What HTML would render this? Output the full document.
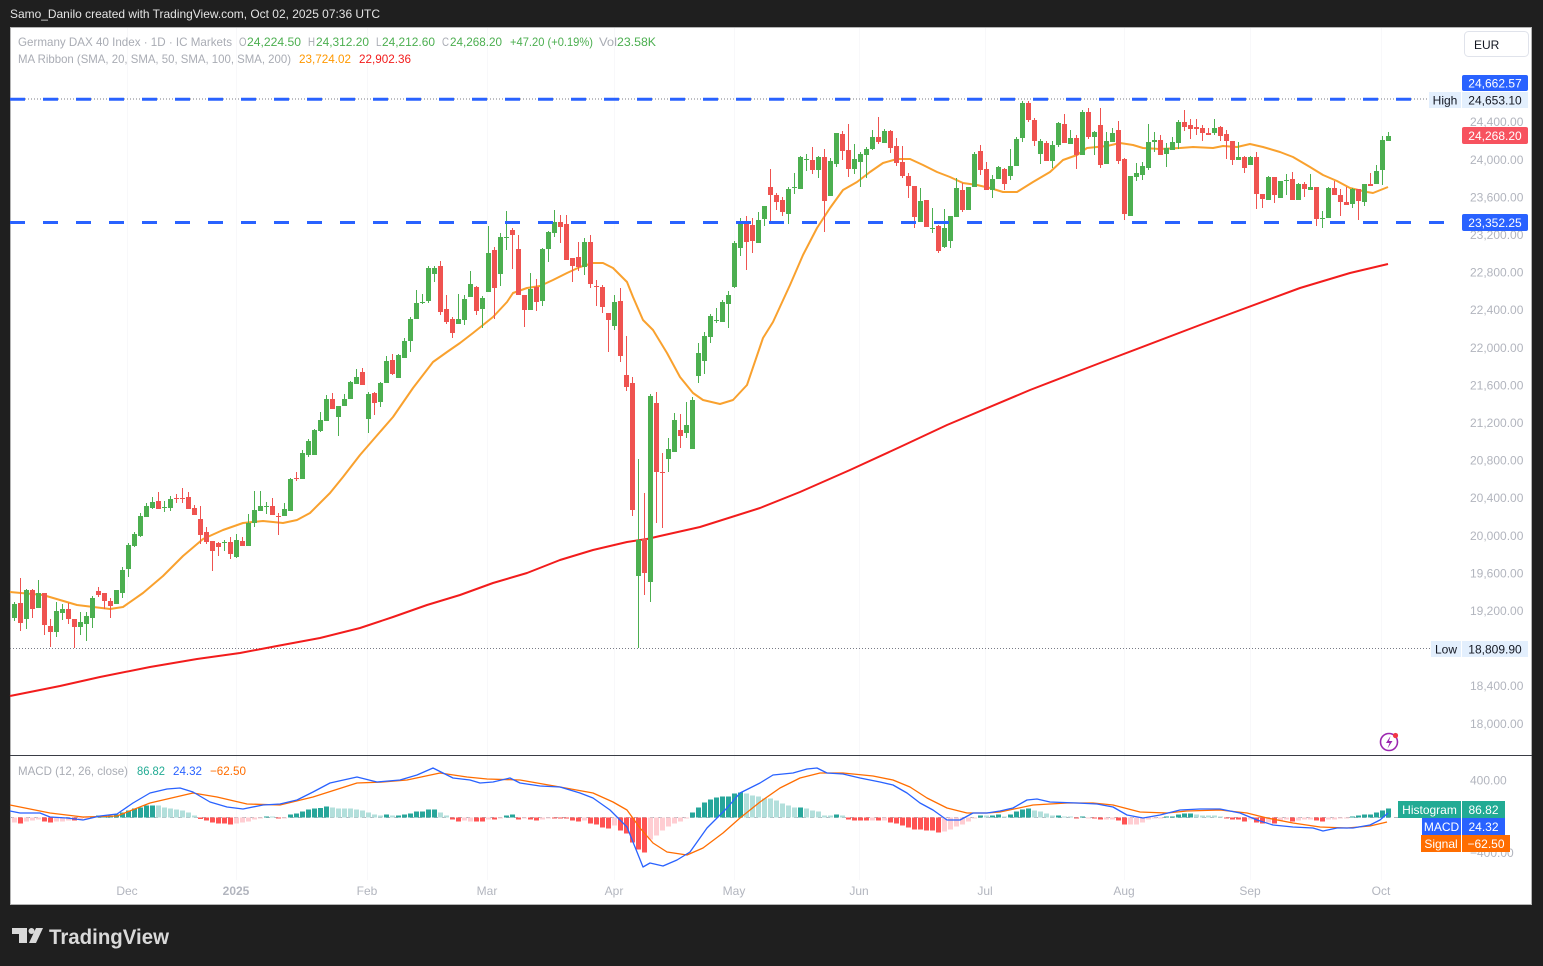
<!DOCTYPE html>
<html><head><meta charset="utf-8">
<style>
html,body{margin:0;padding:0;background:#1f1f1f;width:1543px;height:966px;overflow:hidden}
svg{display:block}
text{font-family:"Liberation Sans",Arial,sans-serif}
</style></head><body>
<svg id="s" width="1543" height="966" viewBox="0 0 1543 966" xmlns="http://www.w3.org/2000/svg">
<rect x="0" y="0" width="1543" height="966" fill="#1f1f1f"/>
<text x="10" y="18" fill="#e4e4e4" font-size="12" textLength="370" lengthAdjust="spacingAndGlyphs">Samo_Danilo created with TradingView.com, Oct 02, 2025 07:36 UTC</text>
<rect x="10.5" y="27.5" width="1521" height="877" fill="#ffffff" stroke="#b4b4b4" stroke-width="1"/>

<!-- faint grid -->
<g stroke="#f8f8fa" stroke-width="1">
<line x1="127.5" y1="28" x2="127.5" y2="880"/><line x1="236.5" y1="28" x2="236.5" y2="880"/><line x1="367.5" y1="28" x2="367.5" y2="880"/><line x1="487.5" y1="28" x2="487.5" y2="880"/><line x1="614.5" y1="28" x2="614.5" y2="880"/><line x1="734.5" y1="28" x2="734.5" y2="880"/><line x1="859.5" y1="28" x2="859.5" y2="880"/><line x1="985.5" y1="28" x2="985.5" y2="880"/><line x1="1124.5" y1="28" x2="1124.5" y2="880"/><line x1="1250.5" y1="28" x2="1250.5" y2="880"/><line x1="1381.5" y1="28" x2="1381.5" y2="880"/>
</g>

<!-- legend -->
<g font-size="12">
<text x="18" y="46" fill="#a9acb4" textLength="214" lengthAdjust="spacingAndGlyphs">Germany DAX 40 Index · 1D · IC Markets</text>
<text x="239" y="46" fill="#a9acb4" textLength="7.5" lengthAdjust="spacingAndGlyphs">O</text><text x="247" y="46" fill="#4caf50" textLength="54" lengthAdjust="spacingAndGlyphs">24,224.50</text>
<text x="308" y="46" fill="#a9acb4" textLength="7" lengthAdjust="spacingAndGlyphs">H</text><text x="316" y="46" fill="#4caf50" textLength="53" lengthAdjust="spacingAndGlyphs">24,312.20</text>
<text x="376" y="46" fill="#a9acb4" textLength="5.5" lengthAdjust="spacingAndGlyphs">L</text><text x="382" y="46" fill="#4caf50" textLength="53" lengthAdjust="spacingAndGlyphs">24,212.60</text>
<text x="442" y="46" fill="#a9acb4" textLength="7" lengthAdjust="spacingAndGlyphs">C</text><text x="450" y="46" fill="#4caf50" textLength="52" lengthAdjust="spacingAndGlyphs">24,268.20</text>
<text x="510" y="46" fill="#4caf50" textLength="83" lengthAdjust="spacingAndGlyphs">+47.20 (+0.19%)</text>
<text x="599" y="46" fill="#a9acb4" textLength="18" lengthAdjust="spacingAndGlyphs">Vol</text><text x="617" y="46" fill="#4caf50" textLength="39" lengthAdjust="spacingAndGlyphs">23.58K</text>
<text x="18" y="63" fill="#a9acb4" textLength="273" lengthAdjust="spacingAndGlyphs">MA Ribbon (SMA, 20, SMA, 50, SMA, 100, SMA, 200)</text>
<text x="299" y="63" fill="#ff9800" textLength="52" lengthAdjust="spacingAndGlyphs">23,724.02</text>
<text x="359" y="63" fill="#f21c1c" textLength="52" lengthAdjust="spacingAndGlyphs">22,902.36</text>
</g>

<!-- EUR button -->
<rect x="1464.5" y="31.5" width="64" height="25" rx="4" fill="#ffffff" stroke="#e0e3eb"/>
<text x="1474" y="49" font-size="12" fill="#131722">EUR</text>

<!-- dotted high/low -->
<line x1="10" y1="99" x2="1429" y2="99" stroke="#787b86" stroke-width="1" stroke-dasharray="1 2"/>
<line x1="10" y1="648.5" x2="1431" y2="648.5" stroke="#787b86" stroke-width="1" stroke-dasharray="1 2"/>

<!-- MA200 -->
<polyline fill="none" stroke="#f21c1c" stroke-width="2" stroke-linejoin="round" points="10,696 60,686 100,677 150,667 197,659 240,653 277,646 320,638 360,628 393,617 427,605 460,595 493,583 527,573 560,560 593,550 627,542 647,539 660,536 700,527 760,508 800,492 850,470 900,447 947,425 1030,390 1100,363 1200,325 1300,288 1350,273 1388,264"/>
<!-- MA20 -->
<polyline fill="none" stroke="#f9a12e" stroke-width="2" stroke-linejoin="round" points="10,592 43,595 77,605 110,609 123,607 143,593 163,576 183,556 203,539 223,530 243,523 263,521 283,523 297,520 310,513 330,493 343,477 360,455 373,440 393,417 413,388 433,362 447,352 460,343 473,333 493,317 507,302 513,293 527,288 540,286 553,280 567,273 580,267 593,263 603,263 613,268 627,282 633,297 643,320 653,330 667,353 680,377 693,393 703,400 720,404 733,400 747,385 763,338 773,322 790,285 803,255 817,228 830,208 843,190 857,182 870,172 883,163 897,159 910,159 923,165 937,172 950,177 963,183 977,185 990,188 1003,192 1017,192 1033,182 1050,172 1063,160 1077,155 1087,148 1107,146 1120,143 1133,145 1143,148 1160,149 1180,148 1193,147 1213,148 1223,146 1237,147 1250,144 1263,147 1280,152 1293,157 1310,167 1323,175 1337,181 1350,188 1367,192 1373,193 1388,187"/>

<g id="cd" shape-rendering="crispEdges"></g>

<!-- blue dashed lines -->
<line x1="10" y1="99.2" x2="1460" y2="99.2" stroke="#2962ff" stroke-width="3" stroke-dasharray="15 18"/>
<line x1="10" y1="222.5" x2="1460" y2="222.5" stroke="#2962ff" stroke-width="3" stroke-dasharray="15 18"/>

<!-- price axis labels -->
<g font-size="12" fill="#b2b5be">
<text x="1470" y="126">24,400.00</text>
<text x="1470" y="164">24,000.00</text>
<text x="1470" y="201.5">23,600.00</text>
<text x="1470" y="239">23,200.00</text>
<text x="1470" y="276.5">22,800.00</text>
<text x="1470" y="314">22,400.00</text>
<text x="1470" y="352">22,000.00</text>
<text x="1470" y="389.5">21,600.00</text>
<text x="1470" y="427">21,200.00</text>
<text x="1470" y="464.5">20,800.00</text>
<text x="1470" y="502">20,400.00</text>
<text x="1470" y="540">20,000.00</text>
<text x="1470" y="577.5">19,600.00</text>
<text x="1470" y="615">19,200.00</text>
<text x="1470" y="690">18,400.00</text>
<text x="1470" y="728">18,000.00</text>
<text x="1470" y="784.5">400.00</text>
<text x="1470" y="857">−400.00</text>
</g>

<!-- price boxes -->
<g font-size="12" text-anchor="middle">
<rect x="1462" y="75" width="66" height="16" rx="2" fill="#2962ff"/>
<text x="1495" y="87.5" fill="#ffffff">24,662.57</text>
<rect x="1429" y="92" width="32" height="16" fill="#e3effd"/>
<text x="1445" y="104.5" fill="#131722">High</text>
<rect x="1462" y="92" width="66" height="16" fill="#e3effd"/>
<text x="1495" y="104.5" fill="#131722">24,653.10</text>
<rect x="1462" y="127" width="66" height="17" rx="2" fill="#f7525f"/>
<text x="1495" y="140" fill="#ffffff">24,268.20</text>
<rect x="1462" y="214" width="66" height="17" rx="2" fill="#2962ff"/>
<text x="1495" y="227" fill="#ffffff">23,352.25</text>
<rect x="1431" y="641" width="30" height="16" fill="#e3effd"/>
<text x="1446" y="653.5" fill="#131722">Low</text>
<rect x="1462" y="641" width="66" height="16" fill="#e3effd"/>
<text x="1495" y="653.5" fill="#131722">18,809.90</text>
</g>

<!-- lightning icon -->
<circle cx="1389" cy="742" r="8.5" fill="none" stroke="#9c27b0" stroke-width="1.6"/>
<path d="M1390.5,736 L1386,743 L1389.5,743 L1387.5,748.5 L1392.5,741 L1389,741 Z" fill="#9c27b0"/>
<circle cx="1395.5" cy="735.5" r="2.6" fill="#f23645"/>

<!-- pane separator -->
<line x1="10" y1="755.5" x2="1532" y2="755.5" stroke="#3a3d45" stroke-width="1"/>

<!-- MACD legend -->
<g font-size="12">
<text x="18" y="775" fill="#a9acb4" textLength="110" lengthAdjust="spacingAndGlyphs">MACD (12, 26, close)</text>
<text x="137" y="775" fill="#22ab94" textLength="28" lengthAdjust="spacingAndGlyphs">86.82</text>
<text x="173" y="775" fill="#2962ff" textLength="29" lengthAdjust="spacingAndGlyphs">24.32</text>
<text x="210" y="775" fill="#ff6d00" textLength="36" lengthAdjust="spacingAndGlyphs">−62.50</text>
</g>

<line x1="10" y1="817.5" x2="1460" y2="817.5" stroke="#b2b5be" stroke-width="1" stroke-dasharray="4 4"/>
<g id="hg" shape-rendering="crispEdges"></g>

<polyline fill="none" stroke="#ff6d00" stroke-width="1.3" stroke-linejoin="round" points="10,805 50,813 83,817 117,816 150,803 193,793 217,797 247,804 280,805 313,797 357,783 383,782 407,780 440,773 467,777 487,779 520,780 560,787 593,793 613,802 627,810 640,828 653,843 667,852 687,855 703,848 723,833 740,818 760,802 780,788 800,778 820,773 843,773 873,776 893,780 910,787 927,798 947,808 967,813 987,813 1000,812 1033,805 1067,803 1093,803 1113,805 1140,812 1167,813 1187,811 1220,810 1247,813 1267,818 1293,823 1320,827 1347,828 1370,826 1387,822"/>
<polyline fill="none" stroke="#2962ff" stroke-width="1.3" stroke-linejoin="round" points="10,811 20,813 40,813 50,817 67,818 83,820 100,816 117,814 133,803 150,793 167,789 180,788 193,792 210,802 227,807 243,809 263,805 280,804 297,800 313,792 330,783 357,777 377,782 400,780 417,775 433,768 453,778 470,780 480,783 493,782 510,778 520,783 540,786 560,787 580,793 593,798 610,810 627,827 643,867 650,863 663,866 677,860 690,852 707,828 727,808 740,793 760,783 773,775 793,773 807,769 817,768 827,773 843,774 860,778 880,782 893,785 907,793 920,803 933,810 947,820 960,820 973,813 987,813 1000,811 1013,808 1027,800 1037,799 1050,802 1077,803 1097,804 1113,807 1127,815 1143,818 1160,815 1180,810 1200,809 1220,809 1240,813 1257,820 1273,825 1293,827 1313,828 1323,831 1337,828 1353,828 1370,825 1380,820 1388,813"/>

<!-- MACD boxes -->
<g font-size="12" fill="#ffffff">
<rect x="1398" y="801" width="63" height="17" fill="#22ab94"/>
<text x="1429.5" y="814" text-anchor="middle">Histogram</text>
<rect x="1462" y="801" width="43" height="17" fill="#22ab94"/>
<text x="1483.5" y="814" text-anchor="middle">86.82</text>
<rect x="1422" y="818" width="39" height="17" fill="#2962ff"/>
<text x="1441.5" y="831" text-anchor="middle">MACD</text>
<rect x="1462" y="818" width="43" height="17" fill="#2962ff"/>
<text x="1483.5" y="831" text-anchor="middle">24.32</text>
<rect x="1421" y="835" width="40" height="17" fill="#ff6d00"/>
<text x="1441" y="848" text-anchor="middle">Signal</text>
<rect x="1462" y="835" width="48" height="17" fill="#ff6d00"/>
<text x="1486" y="848" text-anchor="middle">−62.50</text>
</g>

<!-- time axis -->
<g font-size="12" fill="#b2b5be" text-anchor="middle">
<text x="127" y="895">Dec</text>
<text x="236" y="895" font-weight="bold">2025</text>
<text x="367" y="895">Feb</text>
<text x="487" y="895">Mar</text>
<text x="614" y="895">Apr</text>
<text x="734" y="895">May</text>
<text x="859" y="895">Jun</text>
<text x="985" y="895">Jul</text>
<text x="1124" y="895">Aug</text>
<text x="1250" y="895">Sep</text>
<text x="1381" y="895">Oct</text>
</g>

<!-- TradingView logo -->
<g fill="#d9d9d9">
<rect x="12" y="928" width="15" height="6"/>
<rect x="19" y="928" width="8" height="15"/>
<circle cx="31.5" cy="931" r="3"/>
<polygon points="36,928 43,928 36,943 29,943"/>
<text x="49" y="944" font-size="21" font-weight="bold" textLength="120" lengthAdjust="spacingAndGlyphs">TradingView</text>
</g>
</svg>
<script>
(function(){
var NS="http://www.w3.org/2000/svg";
function el(t,a,p){var e=document.createElementNS(NS,t);for(var k in a)e.setAttribute(k,a[k]);p.appendChild(e);return e;}
var C="G604,618,602,621 R603,623,578,631 G590,619,589,629 R590,609,589,618 G593,608,580,608 R593,625,593,635 R626,632,619,647 G611,632,602,637 G609,613,604,620 R609,619,603,624 "+
"R619,627,619,648 G622,627,612,635 G616,624,612,641 G598,618,596,628 R591,595,587,597 R593,601,593,609 R601,606,598,618 G590,604,590,604 G570,593,567,598 G545,569,543,577 "+
"G534,546,532,547 G516,536,513,537 G506,517,503,517 G502,508,497,509 R501,509,492,509 G507,508,501,512 G499,508,496,511 R498,499,494,503 R498,499,488,503 R497,509,492,509 "+
"R508,515,505,515 R519,535,506,544 R532,542,527,544 R541,551,541,571 R543,547,542,556 G542,543,540,551 R542,554,537,559 G540,557,534,558 R541,546,537,546 G523,546,514,546 "+
"G510,523,491,527 G506,511,491,511 G506,507,502,514 R506,515,498,515 R516,517,513,535 G509,516,503,516 G479,511,478,511 R478,479,472,481 G453,479,450,479 G441,455,439,457 "+
"G430,455,429,455 G420,431,412,432 G399,421,395,421 R399,409,393,409 G406,417,406,436 G399,406,394,406 G382,399,381,399 G377,384,369,384 R372,385,368,385 G394,419,392,433 "+
"R393,403,392,415 G383,402,382,407 G361,383,356,383 R360,374,354,375 G355,378,354,378 G341,358,338,358 G319,341,317,352 G303,319,290,319 G302,303,294,304 G268,301,266,303 "+
"G268,274,266,282 R266,312,261,315 R309,322,295,324 R319,333,317,338 G319,324,294,324 G299,320,295,325 G284,297,271,297 R287,311,286,315 G298,309,296,328 G253,292,226,292 "+
"R250,288,247,319 G237,274,233,286 G237,238,211,250 R230,235,228,269 R249,295,235,295 R295,310,295,327 G289,310,273,310 R287,302,279,311 G249,301,248,306 G232,249,231,262 "+
"G222,233,210,237 R222,227,215,243 R224,260,215,260 R258,266,258,282 R257,267,242,271 G242,267,238,275 R242,284,235,288 R286,287,280,306 R287,307,285,313 R313,320,313,352 "+
"G302,326,295,330 R301,356,288,362 R375,387,336,391 R383,510,377,516 G540,576,459,648 R539,573,493,595 G396,582,394,602 R403,472,392,523 R472,473,453,528 G449,459,438,472 "+
"G420,452,413,452 R430,436,414,448 G425,433,402,438 G400,449,397,449 G353,376,343,383 G336,361,332,374 G316,337,314,343 G320,321,308,323 G302,322,300,322 G295,304,291,328 "+
"G243,287,241,288 G223,248,218,256 R224,242,216,270 R225,241,218,253 G220,243,212,243 G206,219,206,226 R187,195,169,222 R195,202,193,210 R200,212,197,216 G189,214,187,224 "+
"G187,188,173,194 G157,189,156,189 G159,160,154,171 R160,170,147,174 G157,170,156,178 R157,201,149,232 G161,196,158,196 G133,164,133,167 R134,151,131,160 R150,169,124,177 "+
"G159,169,144,174 G154,162,152,187 G149,155,147,178 G137,149,130,150 R137,142,117,144 G131,143,129,143 R131,148,130,153 R146,163,138,166 R162,176,146,178 R176,186,173,198 "+
"R186,217,186,228 G201,222,188,222 R200,227,200,227 G228,229,208,233 R226,251,225,253 G228,247,209,248 G216,241,216,248 G188,217,178,217 R190,210,183,212 G187,210,187,210 "+
"G154,187,152,187 R151,170,145,175 R169,190,162,190 G179,190,175,198 G167,179,166,179 R169,184,168,190 G166,176,149,180 G139,166,137,166 G103,138,101,142 R103,120,101,122 "+
"R120,141,118,146 G141,154,139,164 R143,161,141,161 G145,161,141,168 G123,145,122,147 R124,143,114,143 G138,144,130,144 R138,155,135,169 G112,155,110,155 R112,137,108,139 "+
"G132,137,131,155 R125,165,108,168 G141,164,132,164 G133,142,128,142 R130,161,121,164 R159,214,158,220 G176,216,176,216 G173,177,163,181 G166,175,162,180 G142,168,124,170 "+
"G140,142,132,152 R140,155,135,155 G148,154,143,167 G142,150,137,150 G122,143,120,149 R122,127,110,131 R125,129,119,139 R127,129,119,135 R128,133,125,141 R133,135,128,135 "+
"G128,133,119,135 R127,136,126,141 R134,141,130,159 R141,160,141,165 G157,160,142,160 R157,168,156,173 G157,165,156,165 R157,194,152,209 R194,199,194,208 G177,200,176,200 "+
"R177,195,177,203 G181,198,181,198 G180,181,174,195 R179,200,172,200 G184,200,183,200 R184,189,182,197 G187,190,174,190 R187,219,187,226 G218,219,211,228 G188,218,187,218 "+
"R188,195,181,195 R195,202,189,216 R202,205,187,205 G189,204,188,208 R189,201,189,220 G184,202,184,206 R184,186,173,186 G171,184,165,184 G140,170,136,185 G136,141,132,141";
var cg=document.getElementById('cd');
C.trim().split(/\s+/).forEach(function(s,i){
 var t=s.charAt(0);var n=s.slice(1).split(',').map(Number);
 var x=14+6*i;var col=t==='G'?'#4caf50':'#ef5350';
 el('rect',{x:x,y:n[2],width:1,height:Math.max(1,n[3]-n[2]),fill:col},cg);
 el('rect',{x:x-2,y:n[0],width:5,height:Math.max(1,n[1]-n[0]),fill:col},cg);
});
var H="r-5 R-6 r-4 r-3 r-2 R-4 R-5 r-4 r-4 r-3 R-3 r-2 r-1 G0.5 G2 G2 G2 G3 G5 G7 G9 G10 G12 G12 g12 g10 g9 g8 g7 g5 g2 R-1.5 R-3 R-5 R-6 R-6 R-7 r-6 r-5 r-4 r-2 r-1 G0.5 g0.5 R-0.5 r-0.5 G3 G4 G6 G8 G9 G9.5 G11 g10 g9 g9 g9 g8 g7 g5 g3 g2 G3 g2 G2 G3 G4 G6 G6 G8 G8 g5 g2 R-2 R-4 r-3 r-4 R-4 R-4 r-2 R-2 r-1 G2 G3 R-2 r-1 R-2 R-3 r-2 r-1 R-1 R-1 R-1 R-3 R-4 r-3 R-6 R-7 R-10 R-11 r-8 R-13 R-16 R-25 R-32 R-35 r-22 r-18 r-13 r-9 r-6 r-4 r-1 G5 G10 G15 G18 G20 G21 G21 G24 G25 g24 g22 g21 g19 g19 g17 g14 g12 g10 G10 g9 g7 g6 g2 g2 G3 g2 R-2 R-3 R-3 R-3 r-3 R-3 r-3 R-5 R-6 R-8 R-10 R-12 R-12 R-13 R-13 R-15 r-14 r-12 r-9 r-7 r-4 r-0.5 G2 g2 G2 G3 g1 G3 G6 G8 G9 g7 g6 g4 g2 G2 g1 g1 R-1 G1 r-1 R-1 R-2 r-2 r-2 R-3 R-7 r-7 r-7 r-5 r-2 r-1 r-1 G1 G1 G3 G4 G4 g3 g2 g2 g2 g1 R-1 R-2 R-2 R-4 r-2 R-5 R-6 r-5 R-6 r-3 r-2 R-4 r-3 r-2 r-2 R-3 R-4 r-2 r-2 r-1 r-1 G1 G2 G3 G3 G5 G7 G9";
var cols={G:'#26a69a',g:'#b2dfdb',R:'#ff5252',r:'#ffcdd2'};
var hg=document.getElementById('hg');var base=817.5;
H.trim().split(/\s+/).forEach(function(s,i){
 var t=s.charAt(0);var v=parseFloat(s.slice(1));var x=14+6*i;
 var h=Math.max(1,Math.abs(v));var y=v>0?base-h:base;
 el('rect',{x:x-2,y:y,width:5,height:h,fill:cols[t]},hg);
});
})();
</script>
</body></html>
